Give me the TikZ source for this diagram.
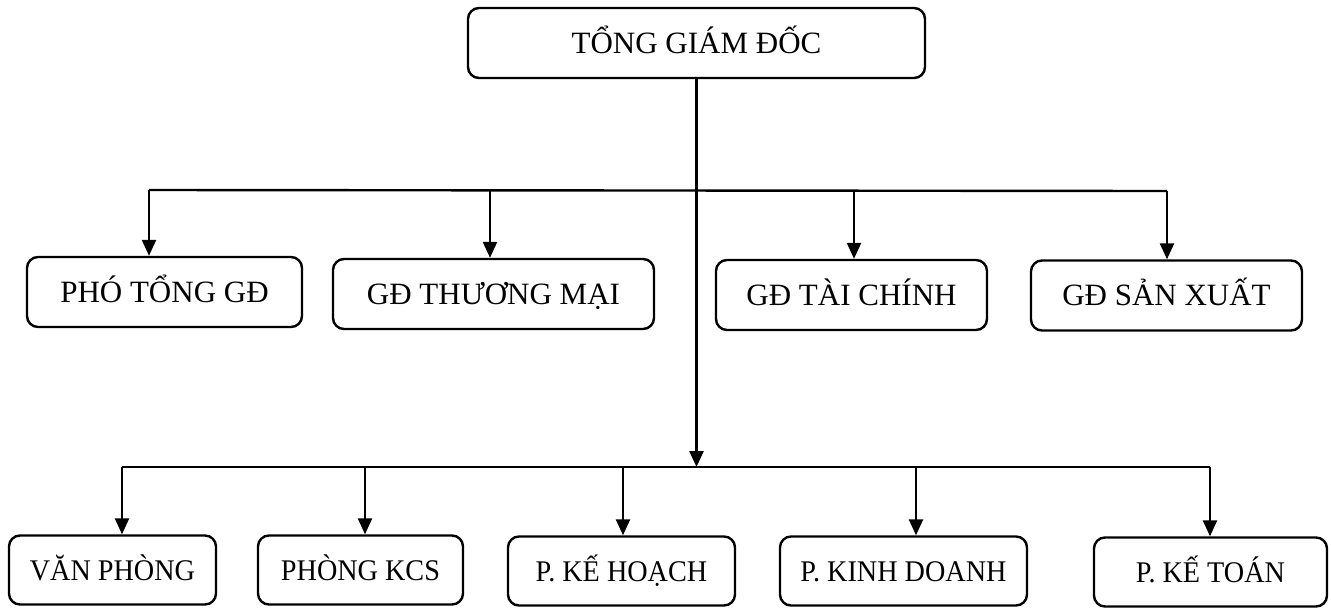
\documentclass[tikz,border=0pt]{standalone}
\usepackage{fontspec}
\setmainfont{Liberation Serif}
\newfontfamily\boxfont{Liberation Serif}
\newfontfamily\narrowfont[FakeStretch=0.94]{Liberation Serif}
\usetikzlibrary{arrows.meta}
\begin{document}
\begin{tikzpicture}[x=1pt,y=-1pt,
  box/.style={draw, line width=2.4pt, rounded corners=11pt, minimum height=70pt, inner sep=0pt, text height=20.5pt, text depth=0pt, font=\boxfont\fontsize{31}{34}\selectfont},
  lowbox/.style={box, minimum height=69pt, text height=20pt, font=\narrowfont\fontsize{30}{34}\selectfont},
  link/.style={line width=2.4pt},
  arr/.style={line width=2.4pt, -{Triangle[length=16pt,width=14pt]}}]
\useasboundingbox (0,0) rectangle (1331,608);
% top
\node[box, minimum width=457pt] (top) at (696.5,43) {TỔNG GIÁM ĐỐC};
% row 1
\node[box, minimum width=275pt] (pho) at (164.5,292) {PHÓ TỔNG GĐ};
\node[box, minimum width=321pt] (tm) at (493.5,294) {GĐ THƯƠNG MẠI};
\node[box, minimum width=271pt] (tc) at (851.5,295) {GĐ TÀI CHÍNH};
\node[box, minimum width=271pt] (sx) at (1166.5,295.5) {GĐ SẢN XUẤT};
% row 2
\node[lowbox, minimum width=207pt] (vp) at (112.5,570) {VĂN PHÒNG};
\node[lowbox, minimum width=205pt] (kcs) at (360.5,570) {PHÒNG KCS};
\node[lowbox, minimum width=227pt] (kh) at (621.5,571) {P. KẾ HOẠCH};
\node[lowbox, minimum width=247pt] (kd) at (903.5,571) {P. KINH DOANH};
\node[lowbox, minimum width=233pt] (kt) at (1210.5,572) {P. KẾ TOÁN};
% bus coordinates
\coordinate (a1) at (149,190);
\coordinate (a2) at (490,190);
\coordinate (a3) at (854,191);
\coordinate (a4) at (1167,191);
\coordinate (b1) at (122,467);
\coordinate (b2) at (365,467);
\coordinate (b3) at (623,467);
\coordinate (b4) at (916,467);
\coordinate (b5) at (1210,467);
\coordinate (m) at (696.5,467);
% main trunk
\draw[arr] (top.south) -- (m);
% bus 1
\draw[link] (a1) -- (a4);
\draw[arr] (a1) -- (a1 |- pho.north);
\draw[arr] (a2) -- (a2 |- tm.north);
\draw[arr] (a3) -- (a3 |- tc.north);
\draw[arr] (a4) -- (a4 |- sx.north);
% bus 2
\draw[link] (b1) -- (b5);
\draw[arr] (b1) -- (b1 |- vp.north);
\draw[arr] (b2) -- (b2 |- kcs.north);
\draw[arr] (b3) -- (b3 |- kh.north);
\draw[arr] (b4) -- (b4 |- kd.north);
\draw[arr] (b5) -- (b5 |- kt.north);
\end{tikzpicture}
\end{document}
